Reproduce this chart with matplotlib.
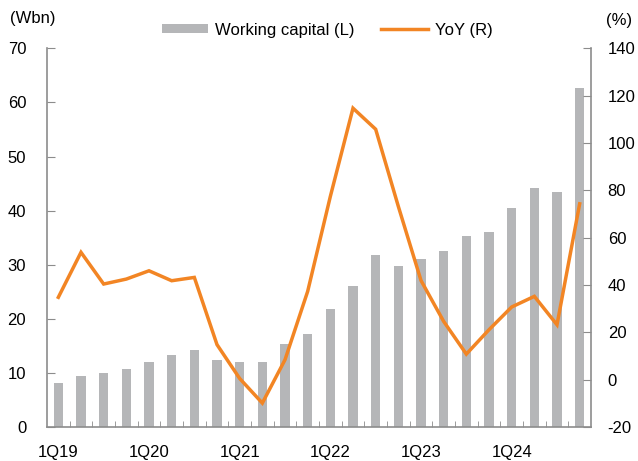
import matplotlib
matplotlib.use("Agg")
import matplotlib.pyplot as plt
from matplotlib.patches import Patch
from matplotlib.lines import Line2D
import numpy as np

plt.rcParams['font.family'] = ['Liberation Sans', 'DejaVu Sans']
plt.rcParams['axes.unicode_minus'] = False

quarters = [f"{q}Q{y}" for y in range(19, 25) for q in range(1, 5)]
working_capital = [8.2, 9.4, 9.9, 10.8, 12.1, 13.3, 14.2, 12.4, 12.1, 12.1, 15.4, 17.2,
                   21.8, 26.0, 31.8, 29.8, 31.0, 32.6, 35.3, 36.0, 40.5, 44.2, 43.4, 62.7]
yoy = [34.8, 53.8, 40.4, 42.5, 46.0, 41.8, 43.2, 14.8, 0.5, -9.9, 8.4, 37.3,
       77.4, 114.7, 105.8, 73.2, 41.9, 24.6, 10.8, 21.1, 30.7, 35.2, 23.2, 74.3]
tick_labels = ["1Q19", "1Q20", "1Q21", "1Q22", "1Q23", "1Q24"]

bar_color = '#b5b6b8'
line_color = '#f28524'
spine_color = '#8c8c8c'

fig = plt.figure(figsize=(6.38, 4.61), dpi=100)
ax = fig.add_axes([47/638, 1-427/461, (591-47)/638, (427-48.3)/461])
ax2 = ax.twinx()

x = np.arange(len(quarters))
ax.bar(x, working_capital, width=0.42, color=bar_color, zorder=1)
ax2.plot(x, yoy, color=line_color, lw=2.5, zorder=3, solid_joinstyle='miter')

ax.set_xlim(-0.5, len(quarters) - 0.5)
ax.set_ylim(0, 70)
ax2.set_ylim(-20, 140)
ax.set_yticks(range(0, 71, 10))
ax2.set_yticks(range(-20, 141, 20))

ax.set_xticks(x[::4])
ax.set_xticklabels(tick_labels)
ax.set_xticks(np.arange(0.5, len(quarters) - 0.5, 1), minor=True)
ax.tick_params(axis='x', which='major', length=0, pad=13, labelsize=12)
ax.tick_params(axis='x', which='minor', direction='in', length=4, color=spine_color)
ax.tick_params(axis='y', direction='in', length=6, color=spine_color, labelsize=12, pad=15)
ax2.tick_params(axis='y', direction='in', length=6, color=spine_color, labelsize=12, pad=12)

for a in (ax, ax2):
    for s in a.spines.values():
        s.set_visible(False)
ax.spines['left'].set_visible(True)
ax.spines['bottom'].set_visible(True)
ax2.spines['right'].set_visible(True)
for s in (ax.spines['left'], ax.spines['bottom'], ax2.spines['right']):
    s.set_color(spine_color)
    s.set_linewidth(1.2)

ax.set_zorder(ax2.get_zorder() - 1)
ax2.patch.set_visible(False)

fig.text(10/638, 1-18/461, "(Wbn)", fontsize=12, va='center', ha='left')
fig.text(632/638, 1-20/461, "(%)", fontsize=12, va='center', ha='right')

handles = [Patch(facecolor=bar_color, edgecolor='none', label='Working capital (L)'),
           Line2D([], [], color=line_color, lw=2.5, label='YoY (R)')]
fig.legend(handles=handles, loc='center', bbox_to_anchor=(327/638, 1-30/461), ncol=2,
           frameon=False, fontsize=12, handlelength=2.8, handleheight=0.5,
           handletextpad=0.4, columnspacing=1.6)

fig.savefig("out.png", dpi=100)
